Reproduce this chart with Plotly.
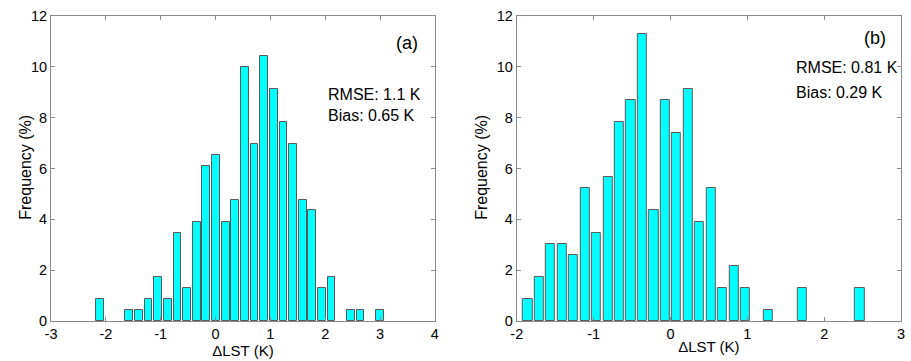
import plotly.graph_objects as go

# Panel (a)
a_centers = [-2.100, -1.925, -1.749, -1.573, -1.397, -1.221, -1.046, -0.870, -0.694, -0.519,
             -0.343, -0.167, 0.009, 0.185, 0.360, 0.536, 0.712, 0.887, 1.063, 1.239,
             1.415, 1.590, 1.766, 1.942, 2.117, 2.293, 2.469, 2.645, 2.820, 2.996]
a_freq = [0.87, 0, 0, 0.43, 0.43, 0.87, 1.74, 0.87, 3.48, 1.30,
          3.91, 6.09, 6.52, 3.91, 4.78, 10.00, 6.96, 10.43, 9.13, 7.83,
          6.96, 4.78, 4.35, 1.30, 1.74, 0, 0.43, 0.43, 0, 0.43]

# Panel (b)
b_centers = [-1.857, -1.708, -1.559, -1.410, -1.261, -1.112, -0.963, -0.814, -0.665, -0.516,
             -0.367, -0.218, -0.069, 0.080, 0.229, 0.378, 0.527, 0.676, 0.825, 0.974,
             1.123, 1.272, 1.421, 1.570, 1.719, 1.868, 2.017, 2.166, 2.315, 2.464]
b_freq = [0.87, 1.74, 3.04, 3.04, 2.61, 5.22, 3.48, 5.65, 7.83, 8.70,
          11.30, 4.35, 8.70, 7.39, 9.13, 3.91, 5.22, 1.30, 2.17, 1.30,
          0, 0.43, 0, 0, 1.30, 0, 0, 0, 0, 1.30]

a_xticks = [-3, -2, -1, 0, 1, 2, 3, 4]
b_xticks = [-2, -1, 0, 1, 2, 3]
yticks = [0, 2, 4, 6, 8, 10, 12]

BAR = "#00FFFF"
EDGE = "#5a5a5a"
AXC = "#8a8a8a"
FONT = "Liberation Sans, Arial, sans-serif"


def nonzero(xs, ys):
    pairs = [(x, y) for x, y in zip(xs, ys) if y > 0]
    return [p[0] for p in pairs], [p[1] for p in pairs]


ax_x, ax_y = nonzero(a_centers, a_freq)
bx_x, bx_y = nonzero(b_centers, b_freq)

fig = go.Figure()
fig.add_trace(go.Bar(x=ax_x, y=ax_y, width=0.141, marker=dict(color=BAR, line=dict(color=EDGE, width=1)),
                     xaxis="x", yaxis="y", showlegend=False))
fig.add_trace(go.Bar(x=bx_x, y=bx_y, width=0.119, marker=dict(color=BAR, line=dict(color=EDGE, width=1)),
                     xaxis="x2", yaxis="y2", showlegend=False))

common_ax = dict(showgrid=False, zeroline=False, showline=True, linecolor=AXC, linewidth=1,
                 mirror="ticks", ticks="inside", ticklen=4, tickcolor=AXC,
                 tickfont=dict(family=FONT, size=14.5, color="black"))

fig.update_layout(
    width=911, height=361,
    margin=dict(l=51, r=6, t=16, b=40),
    paper_bgcolor="white", plot_bgcolor="white",
    bargap=0,
    font=dict(family=FONT, color="black"),
    xaxis=dict(domain=[0, 0.4516], range=[-3, 4], tickvals=a_xticks, ticktext=[str(v) for v in a_xticks],
               title=dict(text="ΔLST (K)", font=dict(size=15), standoff=0), anchor="y", **common_ax),
    yaxis=dict(domain=[0, 1], range=[0, 12], tickvals=yticks, anchor="x", **common_ax),
    xaxis2=dict(domain=[0.548, 1.0], range=[-2, 3], tickvals=b_xticks, ticktext=[str(v) for v in b_xticks],
                title=dict(text="ΔLST (K)", font=dict(size=15), standoff=0), anchor="y2", **common_ax),
    yaxis2=dict(domain=[0, 1], range=[0, 12], tickvals=yticks, anchor="x2", **common_ax),
)

ann_font = dict(family=FONT, size=16, color="black")
anns = [
    dict(x=3.73, y=10.94, xref="x", yref="y", text="(a)", xanchor="right", yanchor="middle", font=dict(family=FONT, size=18, color="black")),
    dict(x=2.02, y=8.93, xref="x", yref="y", text="RMSE: 1.1 K", xanchor="left", yanchor="middle", font=ann_font),
    dict(x=2.02, y=8.10, xref="x", yref="y", text="Bias: 0.65 K", xanchor="left", yanchor="middle", font=ann_font),
    dict(x=2.83, y=11.12, xref="x2", yref="y2", text="(b)", xanchor="right", yanchor="middle", font=dict(family=FONT, size=18, color="black")),
    dict(x=1.61, y=9.96, xref="x2", yref="y2", text="RMSE: 0.81 K", xanchor="left", yanchor="middle", font=ann_font),
    dict(x=1.61, y=8.98, xref="x2", yref="y2", text="Bias: 0.29 K", xanchor="left", yanchor="middle", font=ann_font),
    dict(x=-0.0304, y=0.503, xref="paper", yref="paper", text="Frequency (%)", textangle=-90,
         xanchor="center", yanchor="middle", font=ann_font),
    dict(x=0.5062, y=0.503, xref="paper", yref="paper", text="Frequency (%)", textangle=-90,
         xanchor="center", yanchor="middle", font=ann_font),
]
for a in anns:
    a["showarrow"] = False
    fig.add_annotation(**a)

fig.write_html("out.html", config={"displayModeBar": False},
               post_script="document.body.style.margin='0px';document.body.style.overflow='hidden';")
